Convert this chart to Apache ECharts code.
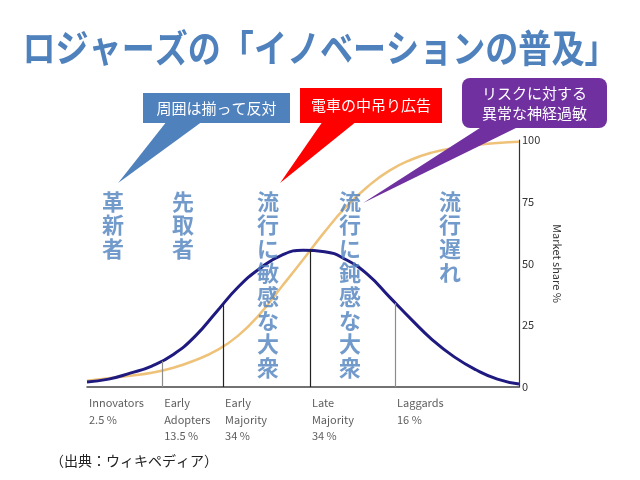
<!DOCTYPE html>
<html>
<head>
<meta charset="utf-8">
<script src="https://cdn.jsdelivr.net/npm/echarts@6/dist/echarts.min.js"></script>
<style>
  html, body { margin: 0; padding: 0; background: #fff; }
  #chart { width: 640px; height: 480px; }
</style>
</head>
<body>
<div id="chart"></div>
<script>
// Position along the adoption timeline (0..100), shared by both curves
const timeX = [0, 5, 10, 15, 20, 25, 30, 35, 40, 45, 50, 55, 60, 65, 70, 75, 80, 85, 90, 95, 100];
// Bell curve (adopters per period)
const bellY = [2.0, 3.2, 5.6, 8.5, 13.2, 20.5, 30.5, 40.5, 48, 53.3, 55.4, 54.8, 51.5, 45.5, 36.5, 27.5, 19, 12.2, 7, 3.2, 1.2];
// Cumulative market share (orange S-curve)
const shareY = [2.5, 3.5, 4.6, 5.8, 7.8, 10.8, 14.8, 20.8, 29.5, 40.5, 51.5, 62.8, 73, 81.2, 87.6, 92, 95, 96.8, 98, 98.8, 99.3];

// Segment dividers and their labels
const dividerX = [17.4, 31.5, 51.6, 71.3];
const dividerTop = [10.5, 34, 55.5, 34];
const dividerColor = ['#8c8c8c', '#222', '#222', '#8c8c8c'];
const segmentX = [0, 17.4, 31.5, 51.6, 71.3];
const segmentLabels = ['Innovators\n2.5 %', 'Early\nAdopters\n13.5 %', 'Early\nMajority\n34 %', 'Late\nMajority\n34 %', 'Laggards\n16 %'];

// Japanese group names (vertical)
const groupX = [6.0, 22.2, 41.9, 60.9, 84.0];
const groupNames = ['革新者', '先取者', '流行に敏感な大衆', '流行に鈍感な大衆', '流行遅れ'];

const yTicks = [0, 25, 50, 75, 100];

// Callouts: text, colour, tip in data coords
const calloutText = ['周囲は揃って反対', '電車の中吊り広告', 'リスクに対する\n異常な神経過敏'];
const calloutColor = ['#4F81BD', '#FF0000', '#7030A0'];
const calloutTip = [[7.2, 82.6], [44.7, 82.6], [63.9, 74.5]];

const FONT = '"Noto Sans CJK JP", "Noto Sans", sans-serif';
const chart = echarts.init(document.getElementById('chart'), null, { renderer: 'canvas' });

const pairs = (xs, ys) => xs.map((x, i) => [x, ys[i]]);

chart.setOption({
    animation: false,
    grid: { left: 87, right: 121, top: 140, bottom: 93 },
    xAxis: {
        type: 'value', min: 0, max: 100,
        axisLine: { show: true, onZero: false, lineStyle: { color: '#444', width: 1.5 } },
        axisTick: { show: false },
        axisLabel: { show: false },
        splitLine: { show: false }
    },
    yAxis: {
        type: 'value', position: 'right', min: yTicks[0], max: yTicks[yTicks.length - 1], interval: 25,
        name: 'Market share %', nameLocation: 'middle', nameRotate: -90, nameGap: 32,
        nameTextStyle: { fontSize: 11, color: '#333', fontFamily: FONT },
        axisLine: { show: true, onZero: false, lineStyle: { color: '#333', width: 1.2 } },
        axisTick: { show: false },
        axisLabel: { fontSize: 11, color: '#333', margin: 3, fontFamily: FONT },
        splitLine: { show: false }
    },
    series: [
        {
            type: 'line', data: pairs(timeX, shareY), smooth: true, symbol: 'none', z: 2,
            lineStyle: { color: '#EFC27A', width: 2.5 }
        },
        {
            type: 'line', data: pairs(timeX, bellY), smooth: true, symbol: 'none', z: 3,
            lineStyle: { color: '#1F1A80', width: 3 },
            markLine: {
                silent: true, symbol: 'none', label: { show: false },
                data: dividerX.map((x, i) => [
                    { coord: [x, 0], lineStyle: { color: dividerColor[i], width: 1.2, type: 'solid' } },
                    { coord: [x, dividerTop[i]] }
                ])
            }
        },
        {
            type: 'scatter', symbolSize: 0, z: 5, silent: true,
            data: segmentX.map((x, i) => ({ value: [x, 0], name: segmentLabels[i] })),
            label: {
                show: true, position: [2, 8], align: 'left', verticalAlign: 'top',
                formatter: p => p.name, fontSize: 11, lineHeight: 16.5, color: '#333', fontFamily: FONT
            }
        },
        {
            type: 'scatter', symbolSize: 0, z: 6, silent: true,
            data: groupX.map((x, i) => ({ value: [x, 80], name: groupNames[i] })),
            label: {
                show: true, position: [0, 0], align: 'center', verticalAlign: 'top',
                formatter: p => p.name.split('').join('\n'),
                fontSize: 22, fontWeight: 'bold', lineHeight: 23.8, color: '#4F81BD', fontFamily: FONT
            }
        }
    ]
});

// Title and callouts are laid out in pixels; pointer tips follow the data coords
const boxes = [
    { x: 143, y: 93, w: 147, h: 30, base: [167, 203] },
    { x: 300, y: 88, w: 142, h: 35, base: [323, 357] },
    { x: 462, y: 78, w: 145, h: 50, base: [483, 520], r: 8 }
];
const graphics = [{
    type: 'text', left: 'center', top: 29, scaleX: 0.87,
    style: { text: 'ロジャーズの「イノベーションの普及」', font: 'bold 38px ' + FONT, fill: '#4F81BD' }
}, {
    type: 'text', left: 50, top: 454,
    style: { text: '（出典：ウィキペディア）', font: '14px ' + FONT, fill: '#222' }
}];
boxes.forEach((b, i) => {
    const tip = chart.convertToPixel({ gridIndex: 0 }, calloutTip[i]);
    const bottom = b.y + b.h;
    graphics.push({
        type: 'polygon', z: 10,
        shape: { points: [[b.base[0], bottom - 2], [b.base[1], bottom - 2], tip] },
        style: { fill: calloutColor[i] }
    });
    graphics.push({
        type: 'rect', z: 11,
        shape: { x: b.x, y: b.y, width: b.w, height: b.h, r: b.r || 0 },
        style: { fill: calloutColor[i] }
    });
    graphics.push({
        type: 'text', z: 12, x: b.x + b.w / 2, y: b.y + b.h / 2,
        style: {
            text: calloutText[i], font: '15px ' + FONT, fill: '#fff',
            align: 'center', verticalAlign: 'middle', lineHeight: 20
        }
    });
});
chart.setOption({ graphic: graphics });
</script>
</body>
</html>
